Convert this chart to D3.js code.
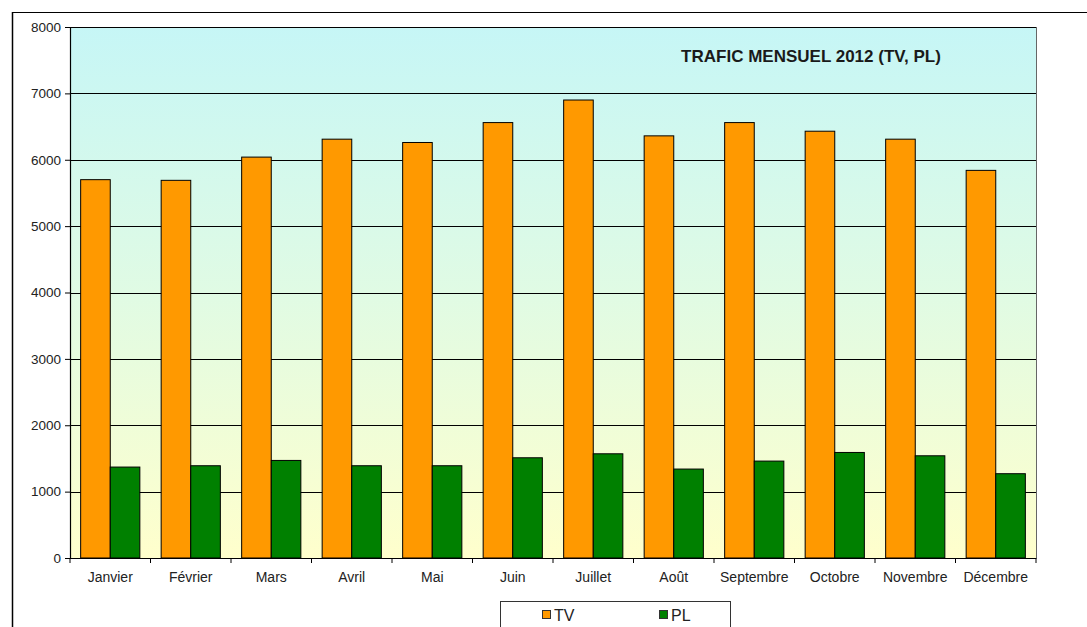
<!DOCTYPE html>
<html><head><meta charset="utf-8">
<script src="https://cdn.jsdelivr.net/npm/d3@7"></script>
<style>html,body{margin:0;padding:0;background:#fff;}svg{display:block;font-family:Arial,"Liberation Sans",sans-serif;}</style>
</head><body><svg id="c" width="1087" height="627"></svg>
<script>
const months = ["Janvier","Février","Mars","Avril","Mai","Juin","Juillet","Août","Septembre","Octobre","Novembre","Décembre"];
const seriesNames = ["TV","PL"];
const tvValues = [5700,5690,6040,6310,6260,6560,6900,6360,6560,6430,6310,5840];
const plValues = [1370,1390,1470,1390,1390,1510,1570,1340,1460,1590,1540,1270];
const yTicks = [0,1000,2000,3000,4000,5000,6000,7000,8000];
const colors = {TV:"#ff9900", PL:"#008000"};
const title = "TRAFIC MENSUEL 2012 (TV, PL)";

const svg = d3.select("#c");
const m = {l:70, t:27, r:1036, b:558};
const x = d3.scaleBand().domain(months).range([m.l, m.r]).paddingInner(0).paddingOuter(0);
const xs = d3.scaleBand().domain(seriesNames).range([0, x.bandwidth()]).paddingInner(0).paddingOuter(0.36);
const y = d3.scaleLinear().domain([0,8000]).range([m.b, m.t]);

// outer frame
svg.append("line").attr("x1",12).attr("x2",1087).attr("y1",12.5).attr("y2",12.5).attr("stroke","#000").attr("stroke-width",1.2);
svg.append("line").attr("x1",12.5).attr("x2",12.5).attr("y1",12).attr("y2",627).attr("stroke","#000").attr("stroke-width",1.5);

// background gradient
const defs = svg.append("defs");
const g = defs.append("linearGradient").attr("id","bg").attr("x1",0).attr("y1",0).attr("x2",0).attr("y2",1);
g.append("stop").attr("offset","0%").attr("stop-color","#c6f6f6");
g.append("stop").attr("offset","50%").attr("stop-color","#e0fbe4");
g.append("stop").attr("offset","100%").attr("stop-color","#ffffcc");
svg.append("rect").attr("x",m.l).attr("y",m.t).attr("width",m.r-m.l).attr("height",m.b-m.t).attr("fill","url(#bg)");

// gridlines
svg.append("g").selectAll("line").data(yTicks.filter(d=>d>0)).join("line")
  .attr("x1",m.l).attr("x2",m.r).attr("y1",d=>Math.round(y(d))+0.5).attr("y2",d=>Math.round(y(d))+0.5)
  .attr("stroke","#000").attr("stroke-width",1);
// right border
svg.append("line").attr("x1",m.r+0.5).attr("x2",m.r+0.5).attr("y1",m.t).attr("y2",m.b).attr("stroke","#666");

// title
svg.append("text").attr("x",811).attr("y",62).attr("text-anchor","middle").attr("font-size",17).attr("font-weight","bold").attr("fill","#1a1a1a").text(title);

// bars
const data = months.map((mo,i)=>({month:mo, TV:tvValues[i], PL:plValues[i]}));
const grp = svg.append("g").selectAll("g").data(data).join("g").attr("transform",d=>`translate(${x(d.month)},0)`);
grp.selectAll("rect").data(d=>seriesNames.map(k=>({k, v:d[k]}))).join("rect")
  .attr("x",d=>xs(d.k)).attr("width",xs.bandwidth())
  .attr("y",d=>y(d.v)).attr("height",d=>y(0)-y(d.v))
  .attr("fill",d=>colors[d.k]).attr("stroke","#000").attr("stroke-width",1);

// y axis
const ya = svg.append("g").attr("transform",`translate(${m.l},0)`)
  .call(d3.axisLeft(y).tickValues(yTicks).tickSize(5).tickPadding(4).tickFormat(d3.format("d")));
ya.select(".domain").attr("stroke","#000").attr("stroke-width",1.2);
ya.selectAll("line").attr("stroke","#000");
ya.selectAll("text").attr("font-size",13.5).attr("fill","#222").attr("font-family","Arial, 'Liberation Sans', sans-serif");

// x axis
const xa = svg.append("g").attr("transform",`translate(0,${m.b})`)
  .call(d3.axisBottom(x).tickSize(0).tickPadding(14));
xa.select(".domain").attr("stroke","#000").attr("stroke-width",1.2);
xa.selectAll("text").attr("font-size",14).attr("fill","#222").attr("font-family","Arial, 'Liberation Sans', sans-serif");
// boundary ticks
svg.append("g").selectAll("line").data(months.map(mo=>x(mo)).concat([m.r])).join("line")
  .attr("x1",d=>d).attr("x2",d=>d).attr("y1",m.b).attr("y2",m.b+5).attr("stroke","#000");

// legend
const lg = svg.append("g");
lg.append("rect").attr("x",500.5).attr("y",601.5).attr("width",230).attr("height",40).attr("fill","#fff").attr("stroke","#333");
const legX = [542, 659];
seriesNames.forEach((s,i)=>{
  lg.append("rect").attr("x",legX[i]+0.5).attr("y",610.5).attr("width",8).attr("height",8).attr("fill",colors[s]).attr("stroke","#333");
  lg.append("text").attr("x",legX[i]+12).attr("y",621).attr("font-size",16).attr("fill","#222").text(s);
});
</script></body></html>
